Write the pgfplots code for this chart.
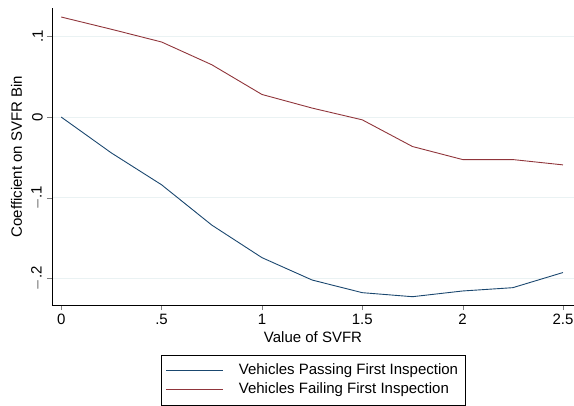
\documentclass[border=0pt]{standalone}
\usepackage{pgfplots}
\pgfplotsset{compat=1.18}
\usepackage{fontspec}
\setmainfont{Liberation Sans}
\definecolor{stnavy}{RGB}{26,71,111}
\definecolor{stmaroon}{RGB}{144,53,59}
\definecolor{stgrid}{RGB}{234,242,243}

\begin{document}
\begin{tikzpicture}
\fontsize{15bp}{17bp}\selectfont
\begin{axis}[
    scale only axis,
    width=522bp, height=297bp,
    xmin=-0.046, xmax=2.555,
    ymin=-0.2332, ymax=0.1354,
    axis x line*=bottom, axis y line*=left,
    tick align=outside,
    major tick length=5bp,
    xtick={0,0.5,1,1.5,2,2.5},
    xticklabels={0,.5,1,1.5,2,2.5},
    ytick={-0.2,-0.1,0,0.1},
    yticklabels={$-$.2,$-$.1,0,.1},
    yticklabel style={rotate=90, anchor=south, font=\fontsize{15bp}{17bp}\selectfont, yshift=-1bp},
    xticklabel style={font=\fontsize{15bp}{17bp}\selectfont, yshift=1bp},
    ymajorgrids,
    grid style={stgrid, line width=1pt},
    /pgf/number format/assume math mode=true,
    xlabel={Value of SVFR},
    ylabel={Coefficient on SVFR Bin},
    xlabel style={font=\fontsize{15bp}{17bp}\selectfont, yshift=3bp},
    ylabel style={font=\fontsize{15bp}{17bp}\selectfont, yshift=-1bp},
    legend style={at={(0.5,-0.167)}, anchor=north, draw=black, line width=0.6pt,
        font=\fontsize{15bp}{17bp}\selectfont, inner xsep=5bp, inner ysep=7bp,
        row sep=2bp, legend cell align=left},
    legend image code/.code={\draw[#1, line width=1pt] (0bp,0bp) -- (57bp,0bp); \path (70bp,0bp);},
    clip=false,
]
\addplot[stnavy, line width=0.9pt] coordinates {
    (0,0) (0.25,-0.0445) (0.5,-0.084) (0.75,-0.134) (1,-0.1744)
    (1.25,-0.2022) (1.5,-0.2179) (1.75,-0.2229) (2,-0.2158)
    (2.25,-0.2117) (2.5,-0.1929)
};
\addlegendentry{Vehicles Passing First Inspection}
\addplot[stmaroon, line width=0.9pt] coordinates {
    (0,0.1242) (0.25,0.109) (0.5,0.0932) (0.75,0.065) (1,0.0281)
    (1.25,0.0112) (1.5,-0.0034) (1.75,-0.0365) (2,-0.0527)
    (2.25,-0.0527) (2.5,-0.0593)
};
\addlegendentry{Vehicles Failing First Inspection}
\end{axis}
\pgfresetboundingbox
\useasboundingbox (-52bp,-101bp) rectangle (522bp,305bp);
\end{tikzpicture}
\end{document}
